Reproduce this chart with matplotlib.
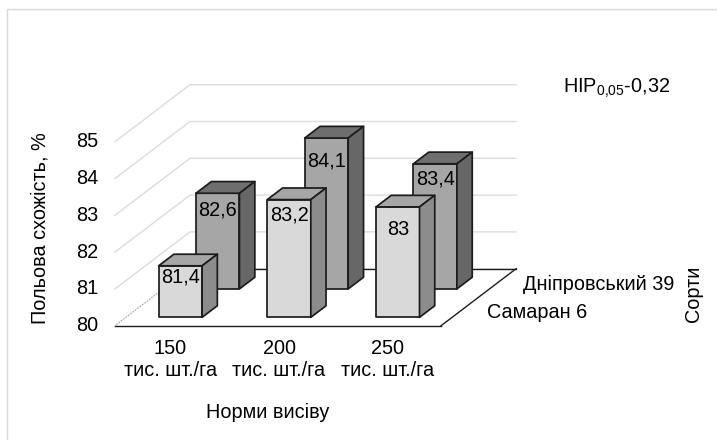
import matplotlib
matplotlib.use("Agg")
from matplotlib import pyplot as plt
from matplotlib.patches import Polygon

plt.rcParams["font.family"] = ["Liberation Sans", "DejaVu Sans"]
plt.rcParams["mathtext.default"] = "regular"

categories = ["150\nтис. шт./га", "200\nтис. шт./га", "250\nтис. шт./га"]
series_names = ["Самаран 6", "Дніпровський 39"]
samaran = [81.4, 83.2, 83.0]
dnipro = [82.6, 84.1, 83.4]
samaran_labels = ["81,4", "83,2", "83"]
dnipro_labels = ["82,6", "84,1", "83,4"]
y_ticks = [80, 81, 82, 83, 84, 85]

# oblique projection of the 3d box, in figure pixels
x0, y0 = 115, 325.7
cat_w = 108.7
unit = 36.8
depth_dx, depth_dy = 75, -57
bar_w = 0.4
fs = 14.3


def proj(x, d, v):
    return (x0 + x * cat_w + d * depth_dx, y0 + d * depth_dy - (v - 80) * unit)


def draw_bar(ax, i, d1, d2, v, c_front, c_top, c_side, z):
    xa = i + 0.5 - bar_w / 2
    xb = i + 0.5 + bar_w / 2
    front = [proj(xa, d1, 80), proj(xb, d1, 80), proj(xb, d1, v), proj(xa, d1, v)]
    top = [proj(xa, d1, v), proj(xb, d1, v), proj(xb, d2, v), proj(xa, d2, v)]
    side = [proj(xb, d1, 80), proj(xb, d2, 80), proj(xb, d2, v), proj(xb, d1, v)]
    for pts, c in [(front, c_front), (top, c_top), (side, c_side)]:
        ax.add_patch(Polygon(pts, closed=True, fc=c, ec="#1c1c1c", lw=1.25, joinstyle="round", zorder=z))


fig = plt.figure(figsize=(7.17, 4.40), dpi=100)
ax = fig.add_axes([0, 0, 1, 1])
ax.set_xlim(0, 717)
ax.set_ylim(440, 0)
ax.axis("off")

# only the left and top of the chart border are in the crop
ax.plot([6.5, 6.5, 717], [440, 9.5, 9.5], color="#d9d9d9", lw=1.0, zorder=0)

# walls
for v in y_ticks:
    pts = [proj(0, 0, v), proj(0, 1, v), proj(3, 1, v)]
    ax.plot([p[0] for p in pts], [p[1] for p in pts], color="#dcdcdc", lw=1.0, zorder=1)
    ax.text(x0 - 17, proj(0, 0, v)[1], str(v), ha="right", va="center", fontsize=fs, color="black")

# floor
corners = [proj(0, 0, 80), proj(3, 0, 80), proj(3, 1, 80), proj(0, 1, 80)]
ax.add_patch(Polygon(corners, closed=True, fc="white", ec="none", zorder=2))
for a, b in [(0, 1), (1, 2), (2, 3)]:
    ax.plot([corners[a][0], corners[b][0]], [corners[a][1], corners[b][1]], color="#1c1c1c", lw=1.0, zorder=2)
ax.plot([corners[3][0], corners[0][0]], [corners[3][1], corners[0][1]], color="#999999", lw=0.8, ls=":", zorder=2)

# bars, back row first
back_offsets = [16.5, 22.5, 15.5]
front_offsets = [11.5, 15.5, 23]
for i, v in enumerate(dnipro):
    draw_bar(ax, i, 0.645, 0.85, v, "#a6a6a6", "#6e6e6e", "#676767", 3)
    p = proj(i + 0.5, 0.645, v)
    ax.text(p[0], p[1] + back_offsets[i], dnipro_labels[i], ha="center", va="center", fontsize=fs, color="black", zorder=4)
for i, v in enumerate(samaran):
    draw_bar(ax, i, 0.147, 0.35, v, "#d9d9d9", "#a6a6a6", "#8c8c8c", 5)
    p = proj(i + 0.5, 0.147, v)
    ax.text(p[0], p[1] + front_offsets[i], samaran_labels[i], ha="center", va="center", fontsize=fs, color="black", zorder=6)

for i, c in enumerate(categories):
    ax.text(x0 + (i + 0.5) * cat_w + 1, 359, c, ha="center", va="center", fontsize=fs, linespacing=1.2)

ax.text(487, 312, series_names[0], ha="left", va="center", fontsize=fs)
ax.text(523, 284, series_names[1], ha="left", va="center", fontsize=fs)

ax.text(40, 228, "Польова схожість, %", rotation=90, ha="center", va="center", fontsize=fs)
ax.text(268, 412, "Норми висіву", ha="center", va="center", fontsize=fs)
ax.text(694, 294, "Сорти", rotation=90, ha="center", va="center", fontsize=fs)
ax.text(563, 88, "HIP$_{0{,}05}$-0,32", ha="left", va="center", fontsize=fs)

fig.savefig("out.png", dpi=100)
